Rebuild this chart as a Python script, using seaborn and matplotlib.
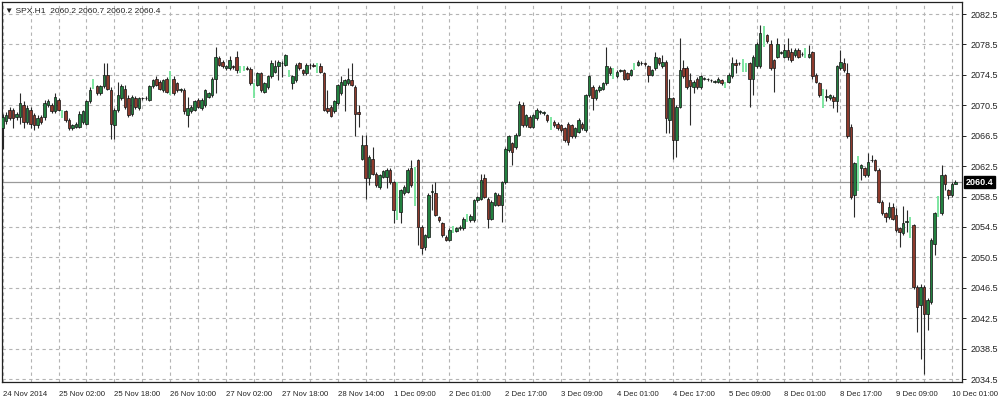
import numpy as np
import pandas as pd
import seaborn as sns
import matplotlib.pyplot as plt

# SPX H1 candles, 24 Nov 2014 -> 10 Dec 2014
opens = [
    2067.5, 2068.4, 2069.9, 2069.9, 2068.9, 2069.0, 2070.5, 2068.3, 2069.9, 2069.2,
    2067.9, 2068.9, 2069.0, 2070.5, 2070.5, 2069.7, 2071.2, 2069.0, 2069.7, 2068.6,
    2067.5, 2067.7, 2067.7, 2068.3, 2068.1, 2071.0, 2072.8, 2073.0, 2072.1, 2073.0,
    2074.5, 2072.5, 2067.9, 2069.9, 2071.4, 2072.7, 2071.4, 2069.4, 2071.4, 2070.1,
    2071.4, 2071.4, 2071.2, 2073.0, 2074.0, 2073.6, 2072.5, 2073.9, 2072.1, 2074.0,
    2073.4, 2072.5, 2072.5, 2069.2, 2069.7, 2069.9, 2071.2, 2070.1, 2070.5, 2071.6,
    2071.8, 2074.0, 2076.7, 2076.2, 2075.4, 2075.4, 2075.6, 2076.9, 2075.0, 2075.2,
    2075.4, 2075.3, 2073.2, 2073.2, 2074.7, 2072.3, 2072.9, 2074.3, 2074.9, 2075.6,
    2076.0, 2075.8, 2075.0, 2073.4, 2073.8, 2076.0, 2075.1, 2074.7, 2075.8, 2075.8,
    2074.9, 2075.6, 2074.7, 2070.1, 2070.3, 2069.7, 2070.8, 2072.1, 2073.2, 2073.4,
    2073.8, 2072.9, 2069.6, 2063.5, 2065.3, 2061.0, 2063.5, 2061.5, 2059.8, 2061.1,
    2061.1, 2062.0, 2060.4, 2056.8, 2056.5, 2058.9, 2059.1, 2062.2, 2057.4, 2063.3,
    2054.5, 2051.9, 2053.2, 2059.1, 2058.9, 2055.8, 2055.0, 2053.2, 2052.8, 2053.9,
    2054.0, 2054.3, 2054.3, 2055.4, 2055.4, 2055.4, 2058.0, 2058.2, 2060.9, 2058.2,
    2055.6, 2057.4, 2058.7, 2057.4, 2060.4, 2064.6, 2065.5, 2065.0, 2066.6, 2070.5,
    2067.9, 2069.0, 2067.7, 2068.8, 2069.6, 2069.5, 2069.2, 2067.5, 2068.3, 2068.1,
    2067.9, 2067.5, 2068.1, 2067.9, 2066.4, 2067.0, 2068.1, 2067.2, 2071.8, 2072.9,
    2071.4, 2072.5, 2072.7, 2073.4, 2075.4, 2074.2, 2074.3, 2075.0, 2075.1, 2074.7,
    2074.5, 2075.4, 2075.8, 2076.0, 2076.0, 2075.6, 2074.5, 2075.4, 2076.7, 2075.6,
    2076.2, 2068.5, 2071.4, 2065.9, 2070.3, 2075.4, 2075.4, 2073.8, 2072.9, 2074.0,
    2072.9, 2074.0, 2073.9, 2073.8, 2073.6, 2073.6, 2073.8, 2073.0, 2073.6, 2074.3,
    2076.0, 2076.0, 2075.0, 2075.1, 2076.0, 2074.0, 2075.6, 2075.6, 2078.4, 2079.7,
    2078.6, 2076.4, 2076.9, 2077.4, 2076.9, 2077.8, 2077.5, 2077.1, 2077.8, 2077.2,
    2076.9, 2076.9, 2077.5, 2074.5, 2073.4, 2070.3, 2071.6, 2071.4, 2071.6, 2071.0,
    2075.4, 2076.0, 2074.7, 2067.7, 2058.7, 2059.4, 2062.2, 2062.2, 2061.3, 2063.3,
    2063.3, 2062.0, 2057.8, 2056.3, 2055.8, 2057.1, 2056.1, 2054.3, 2053.7, 2055.2,
    2053.2, 2054.7, 2046.6, 2044.2, 2046.6, 2043.1, 2044.6, 2052.3, 2056.0, 2056.3,
    2061.3, 2059.3, 2058.7, 2060.2,
]
highs = [
    2069.3, 2069.6, 2070.3, 2070.2, 2069.6, 2072.1, 2071.0, 2070.5, 2070.3, 2069.5,
    2069.2, 2069.2, 2071.2, 2071.3, 2070.8, 2072.1, 2071.5, 2069.9, 2069.9, 2068.8,
    2068.0, 2068.3, 2069.8, 2069.9, 2071.2, 2072.9, 2073.9, 2073.2, 2073.2, 2076.0,
    2076.0, 2072.9, 2070.2, 2073.6, 2073.3, 2073.1, 2071.8, 2071.9, 2071.7, 2071.6,
    2071.6, 2071.7, 2073.2, 2074.0, 2074.3, 2073.8, 2074.0, 2074.2, 2075.0, 2074.3,
    2073.6, 2072.8, 2072.8, 2071.6, 2070.5, 2071.2, 2071.4, 2071.4, 2072.7, 2072.3,
    2074.2, 2078.2, 2077.0, 2076.4, 2075.8, 2077.0, 2075.8, 2077.6, 2075.7, 2075.7,
    2075.6, 2075.5, 2073.4, 2074.9, 2074.9, 2073.6, 2074.5, 2076.4, 2076.4, 2076.4,
    2076.3, 2077.2, 2075.2, 2074.5, 2076.0, 2076.2, 2075.3, 2076.0, 2076.0, 2076.0,
    2076.0, 2076.0, 2074.9, 2072.5, 2070.5, 2071.2, 2073.3, 2074.3, 2073.9, 2075.4,
    2076.0, 2073.1, 2070.5, 2066.6, 2066.6, 2063.9, 2065.0, 2061.7, 2061.5, 2062.0,
    2062.2, 2062.3, 2060.6, 2060.4, 2059.5, 2060.0, 2062.2, 2063.3, 2062.4, 2063.5,
    2054.7, 2053.6, 2059.0, 2060.2, 2060.4, 2056.0, 2055.2, 2053.4, 2054.3, 2054.6,
    2054.5, 2054.7, 2055.8, 2056.2, 2056.2, 2058.2, 2058.6, 2061.5, 2061.5, 2058.4,
    2058.0, 2059.1, 2058.9, 2060.6, 2065.0, 2066.6, 2065.7, 2066.8, 2071.0, 2070.9,
    2069.4, 2069.2, 2069.4, 2070.1, 2069.9, 2069.8, 2069.4, 2069.0, 2068.5, 2068.3,
    2068.1, 2067.7, 2068.3, 2068.1, 2067.6, 2068.8, 2068.3, 2072.0, 2074.5, 2073.1,
    2072.7, 2073.1, 2073.6, 2078.2, 2075.6, 2075.4, 2075.1, 2075.3, 2075.3, 2074.9,
    2075.3, 2076.0, 2076.4, 2076.3, 2076.2, 2075.8, 2075.3, 2077.5, 2076.9, 2077.1,
    2076.4, 2074.0, 2071.6, 2070.5, 2079.3, 2076.4, 2075.6, 2074.7, 2073.8, 2074.2,
    2074.5, 2074.2, 2074.1, 2074.0, 2073.8, 2074.2, 2074.0, 2073.6, 2074.7, 2076.9,
    2076.6, 2076.2, 2076.6, 2076.1, 2076.2, 2077.1, 2078.8, 2081.0, 2080.9, 2079.9,
    2079.1, 2076.6, 2079.3, 2077.7, 2078.6, 2079.3, 2078.0, 2078.0, 2078.0, 2077.5,
    2078.0, 2078.4, 2077.7, 2074.7, 2073.6, 2072.6, 2072.7, 2072.0, 2071.8, 2075.8,
    2077.8, 2076.7, 2076.0, 2068.0, 2063.1, 2063.8, 2062.8, 2062.4, 2064.2, 2063.9,
    2063.5, 2062.2, 2058.0, 2056.5, 2057.8, 2057.6, 2057.0, 2054.5, 2057.2, 2056.7,
    2055.8, 2054.9, 2046.8, 2047.0, 2046.8, 2045.2, 2053.0, 2056.5, 2058.6, 2062.6,
    2061.5, 2059.5, 2060.4, 2060.7,
]
lows = [
    2064.8, 2068.0, 2068.5, 2067.5, 2068.6, 2068.1, 2067.5, 2068.0, 2067.5, 2067.2,
    2067.5, 2068.0, 2068.5, 2070.3, 2069.5, 2069.5, 2069.7, 2068.8, 2068.3, 2067.2,
    2067.2, 2067.5, 2067.5, 2068.1, 2067.9, 2070.8, 2072.6, 2071.9, 2071.9, 2072.8,
    2072.5, 2066.1, 2066.1, 2069.6, 2071.2, 2070.0, 2068.9, 2069.1, 2070.0, 2069.9,
    2071.2, 2071.2, 2071.0, 2072.8, 2073.0, 2072.5, 2072.3, 2072.1, 2071.9, 2071.9,
    2072.3, 2072.3, 2069.3, 2067.7, 2069.5, 2069.7, 2070.1, 2069.9, 2070.3, 2071.4,
    2071.6, 2072.1, 2075.6, 2075.4, 2075.2, 2075.2, 2075.3, 2074.7, 2074.8, 2075.0,
    2075.1, 2073.2, 2071.4, 2073.0, 2072.3, 2072.1, 2072.7, 2074.1, 2074.7, 2073.8,
    2074.2, 2075.6, 2074.2, 2072.7, 2073.6, 2075.1, 2074.5, 2074.5, 2075.3, 2075.5,
    2074.7, 2074.7, 2069.7, 2069.5, 2068.9, 2069.5, 2070.6, 2071.9, 2069.7, 2073.2,
    2073.0, 2066.4, 2067.7, 2063.3, 2058.2, 2060.0, 2061.3, 2059.8, 2059.5, 2060.9,
    2059.6, 2060.2, 2055.0, 2055.4, 2055.0, 2058.7, 2058.9, 2059.8, 2057.2, 2052.1,
    2051.0, 2051.5, 2053.0, 2056.7, 2055.9, 2055.2, 2053.2, 2052.6, 2052.6, 2053.7,
    2053.8, 2054.1, 2054.1, 2055.2, 2055.2, 2055.2, 2057.8, 2058.0, 2058.3, 2054.3,
    2055.4, 2057.2, 2057.2, 2055.2, 2060.2, 2064.4, 2062.6, 2064.8, 2066.4, 2067.7,
    2067.7, 2067.5, 2067.5, 2068.6, 2069.4, 2069.2, 2068.3, 2067.3, 2067.7, 2067.3,
    2067.0, 2065.7, 2065.3, 2066.2, 2066.2, 2066.8, 2067.3, 2067.0, 2071.6, 2069.9,
    2071.2, 2072.3, 2072.5, 2073.2, 2074.5, 2074.0, 2074.1, 2074.9, 2073.8, 2073.8,
    2074.3, 2075.2, 2075.6, 2075.8, 2075.7, 2073.6, 2074.3, 2075.2, 2075.8, 2075.4,
    2066.8, 2066.8, 2063.5, 2063.7, 2070.1, 2074.1, 2072.7, 2067.9, 2072.1, 2072.7,
    2072.7, 2073.8, 2073.7, 2073.6, 2073.4, 2073.4, 2073.2, 2072.8, 2073.4, 2074.1,
    2074.7, 2075.8, 2074.9, 2074.9, 2070.3, 2071.8, 2075.4, 2075.4, 2078.2, 2078.7,
    2075.1, 2072.3, 2076.7, 2077.3, 2076.7, 2076.5, 2076.2, 2076.9, 2076.7, 2077.0,
    2076.7, 2076.7, 2074.0, 2073.4, 2071.6, 2070.1, 2071.0, 2071.2, 2070.1, 2069.6,
    2075.2, 2074.9, 2066.2, 2058.2, 2055.8, 2059.2, 2060.7, 2061.1, 2061.1, 2063.0,
    2061.8, 2057.6, 2056.1, 2055.2, 2055.6, 2055.4, 2053.9, 2051.9, 2053.5, 2053.9,
    2053.0, 2046.4, 2040.7, 2037.2, 2035.2, 2040.9, 2044.4, 2050.8, 2055.8, 2056.1,
    2059.3, 2058.2, 2058.5, 2060.2,
]
closes = [
    2069.0, 2069.2, 2068.8, 2068.8, 2069.3, 2070.8, 2068.3, 2070.1, 2068.1, 2067.9,
    2068.8, 2068.3, 2070.8, 2071.0, 2069.7, 2071.6, 2069.9, 2069.7, 2068.6, 2067.5,
    2067.9, 2068.1, 2069.4, 2069.7, 2071.0, 2072.5, 2073.7, 2072.1, 2073.0, 2074.5,
    2072.7, 2068.1, 2069.9, 2071.8, 2073.0, 2070.3, 2069.2, 2071.6, 2070.3, 2071.4,
    2071.4, 2071.5, 2073.0, 2073.8, 2073.2, 2072.7, 2073.8, 2072.3, 2074.3, 2072.1,
    2072.5, 2072.6, 2069.7, 2070.1, 2070.3, 2071.0, 2070.3, 2071.2, 2072.5, 2072.1,
    2074.0, 2076.9, 2075.8, 2075.6, 2075.6, 2076.5, 2075.5, 2075.1, 2075.5, 2075.5,
    2075.3, 2073.4, 2071.6, 2074.7, 2072.5, 2073.4, 2074.3, 2076.0, 2075.6, 2076.2,
    2076.1, 2077.1, 2074.4, 2074.3, 2075.8, 2075.4, 2074.7, 2075.8, 2075.8, 2075.7,
    2075.8, 2074.9, 2069.9, 2069.7, 2069.1, 2071.0, 2073.1, 2073.6, 2073.8, 2074.0,
    2073.2, 2069.4, 2069.4, 2065.3, 2060.9, 2063.7, 2061.5, 2060.0, 2061.3, 2061.8,
    2062.0, 2060.4, 2056.7, 2060.2, 2059.3, 2059.8, 2062.0, 2060.0, 2062.2, 2054.5,
    2051.7, 2053.4, 2058.7, 2059.2, 2056.1, 2055.4, 2053.4, 2052.8, 2054.1, 2054.4,
    2054.3, 2054.5, 2055.6, 2056.0, 2056.0, 2058.0, 2058.4, 2060.7, 2058.5, 2055.6,
    2057.8, 2058.9, 2057.4, 2060.4, 2064.8, 2066.4, 2064.4, 2066.6, 2070.7, 2067.9,
    2069.2, 2067.7, 2069.2, 2069.9, 2069.7, 2069.5, 2068.5, 2068.8, 2067.9, 2067.5,
    2067.2, 2065.9, 2065.7, 2066.4, 2067.5, 2068.6, 2067.5, 2071.8, 2074.3, 2071.4,
    2072.5, 2072.9, 2073.4, 2075.6, 2074.7, 2075.2, 2074.9, 2075.1, 2074.0, 2074.0,
    2075.1, 2075.8, 2076.2, 2076.0, 2075.9, 2074.5, 2075.1, 2076.9, 2076.0, 2076.2,
    2068.8, 2071.4, 2065.9, 2070.3, 2075.1, 2074.3, 2072.9, 2073.0, 2073.6, 2072.9,
    2074.3, 2074.0, 2073.9, 2073.8, 2073.6, 2074.0, 2073.4, 2073.4, 2074.5, 2076.0,
    2075.8, 2076.0, 2076.4, 2075.9, 2074.0, 2076.9, 2078.6, 2080.0, 2080.5, 2078.9,
    2075.4, 2075.4, 2078.6, 2077.5, 2077.8, 2076.9, 2076.5, 2077.8, 2076.9, 2077.3,
    2077.8, 2077.3, 2074.3, 2073.6, 2071.8, 2072.4, 2071.6, 2071.8, 2071.0, 2075.6,
    2076.2, 2075.1, 2066.4, 2058.5, 2062.9, 2063.6, 2062.6, 2061.3, 2063.1, 2063.3,
    2062.0, 2057.8, 2056.3, 2055.8, 2057.1, 2055.6, 2054.1, 2053.9, 2055.0, 2055.2,
    2055.6, 2046.6, 2044.0, 2046.6, 2043.1, 2044.9, 2052.8, 2056.3, 2058.4, 2061.3,
    2060.2, 2058.7, 2060.2, 2060.4,
]
# bars that show up as thin pale-green strokes
pale_bars = [17, 26, 48, 68, 69, 72, 82, 90, 113, 118, 129, 133, 157, 175, 181,
             207, 212, 213, 218, 230, 235, 245, 260, 268]

date_labels = ["24 Nov 2014", "25 Nov 02:00", "25 Nov 18:00", "26 Nov 10:00",
               "27 Nov 02:00", "27 Nov 18:00", "28 Nov 14:00", "1 Dec 09:00",
               "2 Dec 01:00", "2 Dec 17:00", "3 Dec 09:00", "4 Dec 01:00",
               "4 Dec 17:00", "5 Dec 09:00", "8 Dec 01:00", "8 Dec 17:00",
               "9 Dec 09:00", "10 Dec 01:00"]
price_ticks = [2082.5, 2078.5, 2074.5, 2070.5, 2066.5, 2062.5, 2058.5,
               2054.5, 2050.5, 2046.5, 2042.5, 2038.5, 2034.5]
last_price = 2060.4
title_text = "SPX.H1  2060.2 2060.7 2060.2 2060.4"

df = pd.DataFrame({"open": opens, "high": highs, "low": lows, "close": closes})
df["bar"] = np.arange(len(df))
df["pale"] = df["bar"].isin(pale_bars)
df["up"] = df["close"] >= df["open"]

sns.set_theme(style="white")
plt.rcParams["font.family"] = ["Liberation Sans", "DejaVu Sans"]

fig = plt.figure(figsize=(10, 4), dpi=100)
fig.patch.set_facecolor("white")
ax = fig.add_axes([0.002, 0.045, 0.96, 0.95])
ax.set_facecolor("white")

# grid
for b in range(0, len(df) + 2, 8):
    ax.axvline(b, color="#b4b4b4", lw=0.8, ls=(0, (3, 3)), zorder=0)
for p in price_ticks:
    ax.axhline(p, color="#b4b4b4", lw=0.8, ls=(0, (3, 3)), zorder=0)

# last price line
ax.axhline(last_price, color="#9a9a9a", lw=0.9, zorder=1)

green = "#22803f"
red = "#8e3a2c"
pale = "#74e49a"

normal = df[~df["pale"]]
ax.vlines(normal["bar"], normal["low"], normal["high"], color="#2a2a2a", lw=0.8, zorder=2)
bottoms = normal[["open", "close"]].min(axis=1)
heights = (normal["close"] - normal["open"]).abs().clip(lower=0.06)
colors = np.where(normal["up"], green, red)
ax.bar(normal["bar"], heights, bottom=bottoms, width=0.72, color=colors,
       edgecolor="#111111", linewidth=0.5, zorder=3)

pl = df[df["pale"]]
ax.vlines(pl["bar"], pl["low"], pl["high"], color=pale, lw=1.3, zorder=2)

ax.set_xlim(-0.2, 274.87)
ax.set_ylim(2034.11, 2084.08)

# axes cosmetics
for s in ax.spines.values():
    s.set_visible(True)
    s.set_color("#222222")
    s.set_linewidth(0.9)
ax.yaxis.tick_right()
ax.set_yticks(price_ticks)
ax.set_yticklabels([f"{p:.1f}" for p in price_ticks], fontsize=6.5, color="#222222")
ax.tick_params(axis="y", direction="out", length=3, width=0.7, pad=3, colors="#222222")
ax.set_xticks(np.arange(0, 16 * len(date_labels), 16))
ax.set_xticklabels(date_labels, fontsize=5.6, color="#222222", ha="left")
ax.tick_params(axis="x", direction="out", length=4, width=0.7, pad=2.5, colors="#222222")
ax.grid(False)

# current price tag
ax.annotate(f"{last_price:.1f}", xy=(1.0, last_price), xycoords=("axes fraction", "data"),
            xytext=(2.5, 0), textcoords="offset points", va="center", ha="left",
            fontsize=6.5, color="white", fontweight="bold",
            bbox=dict(boxstyle="square,pad=0.2", fc="black", ec="black"))

ax.text(0.003, 0.985, "\u25bc " + title_text, transform=ax.transAxes, fontsize=6,
        color="#222222", va="top", ha="left")

plt.savefig("out.png", dpi=100)
